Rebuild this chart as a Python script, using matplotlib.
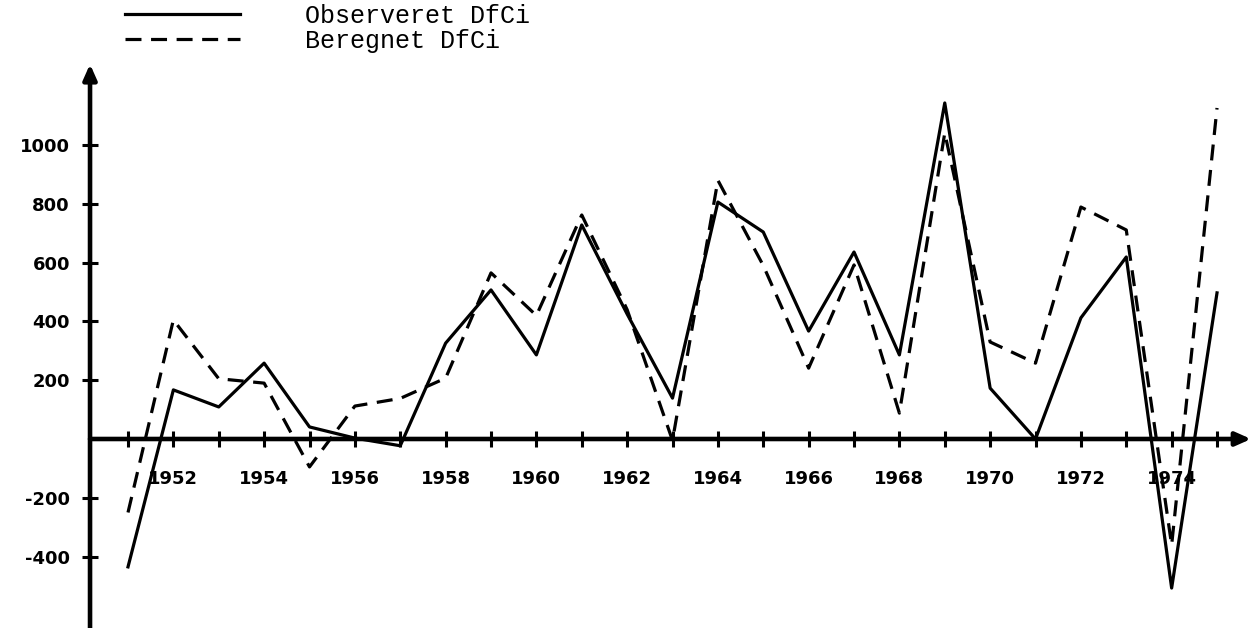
import numpy as np
import matplotlib
matplotlib.use('Agg')
import matplotlib.pyplot as plt

# data
years = list(range(1951, 1976))
observeret = [-435, 167, 109, 258, 41, 3, -23, 326, 507, 286, 728, 425, 139,
              806, 704, 367, 636, 286, 1143, 173, 0, 412, 619, -507, 497]
beregnet = [-250, 405, 205, 190, -95, 112, 138, 207, 565, 420, 762, 440, -5,
            880, 590, 241, 592, 88, 1041, 330, 258, 789, 711, -361, 1126]
xtick_labels = ['1952', '1954', '1956', '1958', '1960', '1962', '1964',
                '1966', '1968', '1970', '1972', '1974']
ytick_vals = [-400, -200, 200, 400, 600, 800, 1000]

fig = plt.figure(figsize=(12.53, 6.28), dpi=100)
ax = fig.add_axes([0, 0, 1, 1])

x_axis_pos = 1950.163
ax.set_xlim(1948.179, 1975.793)
ax.set_ylim(-642.9, 1493.2)

ax.plot(years, observeret, color='black', lw=2.3, label='Observeret DfCi')
ax.plot(years, beregnet, color='black', lw=2.3, linestyle=(0, (5, 3)),
        label='Beregnet DfCi')

# akser med pile
for s in ax.spines.values():
    s.set_visible(False)
ax.spines['left'].set_position(('data', x_axis_pos))
ax.spines['bottom'].set_position(('data', 0))
arrow = dict(arrowstyle='-|>,head_length=0.9,head_width=0.4', lw=3.3,
             color='black', shrinkA=0, shrinkB=0)
ax.annotate('', xy=(x_axis_pos, 1275), xytext=(x_axis_pos, -700), arrowprops=arrow)
ax.annotate('', xy=(1975.75, 0), xytext=(x_axis_pos, 0), arrowprops=arrow)

ax.set_xticks(years)
ax.set_xticklabels([str(y) if str(y) in xtick_labels else '' for y in years])
ax.set_yticks(ytick_vals)
ax.set_yticklabels([str(v) for v in ytick_vals])
ax.tick_params(axis='both', direction='inout', length=11, width=2.2,
               labelsize=13)
ax.tick_params(axis='x', pad=17)
ax.tick_params(axis='y', pad=9)
for lab in ax.get_xticklabels() + ax.get_yticklabels():
    lab.set_fontweight('bold')

fig.legend(loc='upper left', bbox_to_anchor=(0.0998, 0.994), frameon=False,
           borderpad=0, borderaxespad=0, handlelength=4.6, handletextpad=2.6,
           labelspacing=0.05, prop={'family': 'Liberation Mono', 'size': 18})

plt.savefig('out.png', dpi=100)
